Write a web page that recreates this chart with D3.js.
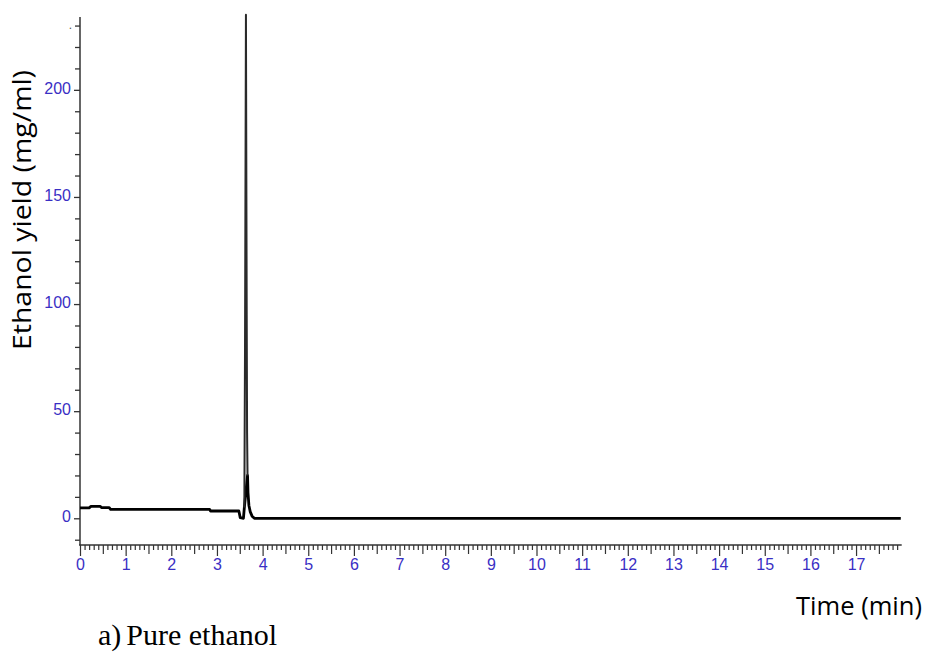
<!DOCTYPE html>
<html>
<head>
<meta charset="utf-8">
<script src="https://cdn.jsdelivr.net/npm/d3@7"></script>
<style>
  body { margin: 0; background: #fff; }
  svg { display: block; }
</style>
</head>
<body>
<svg></svg>
<script>
const w = 927;
const h = 652;

// chromatogram
const times = [0, 0.2, 0.24, 0.44, 0.47, 0.64, 0.67, 2.84, 2.86, 3.48, 3.51, 3.58, 3.6, 3.615, 3.635,
	3.645, 3.652, 3.66, 3.67, 3.68, 3.7, 3.73, 3.77, 3.82, 5, 10, 15, 17.98];
const yields = [4.9, 4.9, 5.6, 5.6, 5, 5, 4.2, 4.2, 3.4, 3.4, 0.3, 0, 5, 80, 235,
	150, 95, 40, 20, 12, 6, 3, 1, 0, 0, 0, 0, 0];

const xTicks = d3.range(0, 18, 1);
const yTicks = [0, 50, 100, 150, 200];
const yTickLabels = ['0', '50', '100', '150', '200'];
const yStrayTick = 230; // a lone "." label sits at this tick in the original

const labelColor = '#3a2fc4';
const axisColor = '#333';
const tickFont = '"Liberation Sans Narrow", "Arial Narrow", sans-serif';

let canvas = d3.select('svg').attr('width', w).attr('height', h);

const xScale = d3.scaleLinear().domain([0, 18]).range([80, 901.7]);
const yScale = d3.scaleLinear().domain([-12, 234]).range([544, 17]);

const drawAxes = () => {
	// y axis line
	canvas.append('line')
		.attr('x1', 80).attr('x2', 80)
		.attr('y1', yScale.range()[1]).attr('y2', yScale.range()[0] + 1)
		.attr('stroke', axisColor).attr('stroke-width', 1.5);

	// y minor ticks every 10
	const yMinor = d3.range(-10, 231, 10).filter((v) => v % 50 !== 0);
	canvas.append('g')
		.attr('transform', 'translate(80,0)')
		.call(d3.axisLeft(yScale).tickValues(yMinor).tickSize(5).tickFormat(''))
		.call((g) => g.select('.domain').remove())
		.call((g) => g.selectAll('line').attr('stroke', axisColor).attr('stroke-width', 1.3));

	// y major ticks with labels
	canvas.append('g')
		.attr('transform', 'translate(80,0)')
		.call(d3.axisLeft(yScale).tickValues(yTicks).tickSize(6).tickPadding(3)
			.tickFormat((d, i) => yTickLabels[i]))
		.call((g) => g.select('.domain').remove())
		.call((g) => g.selectAll('line').attr('stroke', axisColor).attr('stroke-width', 1.3))
		.call((g) => g.selectAll('text')
			.attr('fill', labelColor)
			.attr('dy', '0.2em')
			.style('font-family', tickFont)
			.style('font-size', '16px'));

	canvas.append('text')
		.attr('x', 72).attr('y', yScale(yStrayTick) + 3)
		.attr('text-anchor', 'end')
		.attr('fill', '#555')
		.style('font-family', tickFont)
		.style('font-size', '12px')
		.text('.');

	// x axis line
	canvas.append('line')
		.attr('x1', 79).attr('x2', xScale.range()[1])
		.attr('y1', 545).attr('y2', 545)
		.attr('stroke', axisColor).attr('stroke-width', 1.5);

	// x ticks: every 0.1, longer at halves and integers
	const xAll = d3.range(0, 180).map((i) => i / 10);
	const xMinor = xAll.filter((v, i) => i % 5 !== 0);
	const xHalf = xAll.filter((v, i) => i % 10 === 5);

	canvas.append('g')
		.attr('transform', 'translate(0,545)')
		.call(d3.axisBottom(xScale).tickValues(xMinor).tickSize(5).tickFormat(''))
		.call((g) => g.select('.domain').remove())
		.call((g) => g.selectAll('line').attr('stroke', axisColor).attr('stroke-width', 1.2));

	canvas.append('g')
		.attr('transform', 'translate(0,545)')
		.call(d3.axisBottom(xScale).tickValues(xHalf).tickSize(9).tickFormat(''))
		.call((g) => g.select('.domain').remove())
		.call((g) => g.selectAll('line').attr('stroke', axisColor).attr('stroke-width', 1.2));

	canvas.append('g')
		.attr('transform', 'translate(0,545)')
		.call(d3.axisBottom(xScale).tickValues(xTicks).tickSize(11).tickPadding(3).tickFormat(d3.format('d')))
		.call((g) => g.select('.domain').remove())
		.call((g) => g.selectAll('line').attr('stroke', axisColor).attr('stroke-width', 1.2))
		.call((g) => g.selectAll('text')
			.attr('fill', labelColor)
			.style('font-family', tickFont)
			.style('font-size', '16px'));
};

const drawLine = () => {
	const pts = times.map((t, i) => [t, yields[i]]);
	const line = d3.line().x((d) => xScale(d[0])).y((d) => yScale(d[1]));

	// baseline drawn heavy, the narrow peak drawn thin like the original trace
	const base = pts.filter((d) => d[1] <= 20);
	const peak = pts.filter((d) => d[0] >= 3.6 && d[0] <= 3.67);

	canvas.append('path')
		.datum(base)
		.attr('d', line)
		.attr('fill', 'none')
		.attr('stroke', '#000')
		.attr('stroke-width', 2.8)
		.attr('stroke-linejoin', 'round');

	canvas.append('path')
		.datum(peak)
		.attr('d', line)
		.attr('fill', 'none')
		.attr('stroke', '#2a2a2a')
		.attr('stroke-width', 2)
		.attr('stroke-linejoin', 'round');
};

const drawTitles = () => {
	canvas.append('text')
		.attr('transform', 'translate(31,210) rotate(-90)')
		.attr('text-anchor', 'middle')
		.attr('fill', '#000')
		.attr('textLength', 280)
		.attr('lengthAdjust', 'spacingAndGlyphs')
		.style('font-family', '"Open Sans", sans-serif')
		.style('font-size', '25px')
		.text('Ethanol yield (mg/ml)');

	canvas.append('text')
		.attr('x', 922).attr('y', 615)
		.attr('text-anchor', 'end')
		.attr('fill', '#000')
		.attr('textLength', 126)
		.attr('lengthAdjust', 'spacingAndGlyphs')
		.style('font-family', '"Open Sans", sans-serif')
		.style('font-size', '25px')
		.text('Time (min)');

	const cap = canvas.append('text')
		.attr('x', 98).attr('y', 645)
		.attr('fill', '#000')
		.style('font-family', '"Liberation Serif", "Times New Roman", serif')
		.style('font-size', '30px');
	cap.append('tspan').text('a)');
	cap.append('tspan').attr('dx', 5).text('Pure ethanol');
};

drawAxes();
drawLine();
drawTitles();
</script>
</body>
</html>
